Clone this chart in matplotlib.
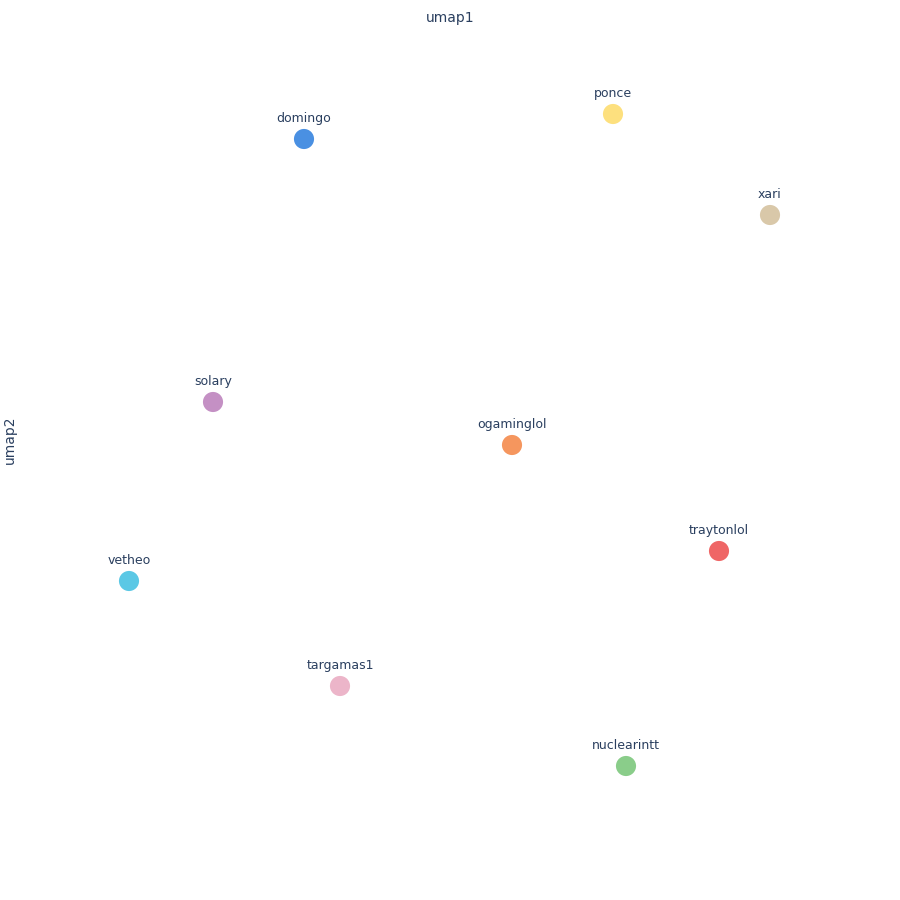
#%% Imports
import matplotlib.pyplot as plt

#%% Data (umap coordinates, screen-like units)
names = ['domingo', 'ponce', 'xari', 'solary', 'ogaminglol',
         'traytonlol', 'vetheo', 'targamas1', 'nuclearintt']
umap1 = [304, 613, 770, 213, 512, 719, 129, 340, 626]
umap2 = [761, 786, 685, 498, 455, 349, 319, 214, 134]
colors = ['#4a90e2', '#fde07e', '#d9c8a9', '#c490c4', '#f5965e',
          '#ef6666', '#5bc8e5', '#ecb5c9', '#8acd8a']

#%% Plot
fig = plt.figure(figsize=(9, 9), dpi=100)
fig.patch.set_facecolor('white')
ax = fig.add_axes([0, 0, 1, 1])
ax.set_xlim(0, 900)
ax.set_ylim(0, 900)
ax.axis('off')

ax.scatter(umap1, umap2, s=210, c=colors, edgecolors='none', zorder=2)
for x, y, n in zip(umap1, umap2, names):
    ax.annotate(n, (x, y), xytext=(0, 10), textcoords='offset points',
                ha='center', va='bottom', fontsize=9, color='#2a3f5f',
                family='DejaVu Sans')

fig.text(0.5, 1 - 18 / 900, 'umap1', ha='center', va='center',
         fontsize=10, color='#2a3f5f')
fig.text(10 / 900, 1 - 440 / 900, 'umap2', ha='center', va='center',
         rotation=90, fontsize=10, color='#2a3f5f')

fig.savefig('out.png', dpi=100, facecolor='white')
